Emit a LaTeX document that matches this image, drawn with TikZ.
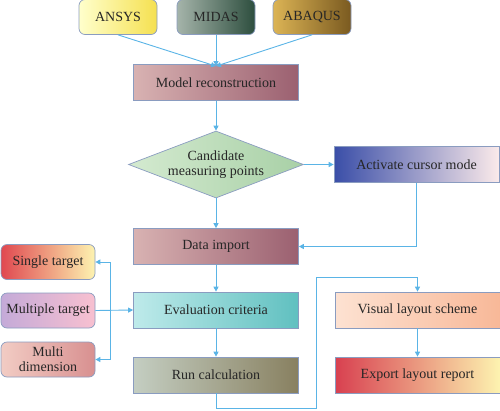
\documentclass[tikz,border=0pt]{standalone}
\usepackage{fontspec}
\setmainfont{Liberation Serif}
\usetikzlibrary{shapes.geometric,arrows.meta,positioning}
\definecolor{lnk}{HTML}{5AB4E6}
\definecolor{bord}{HTML}{8A9CC0}
\tikzset{
  box/.style={draw=bord, line width=0.7pt, minimum width=165pt, minimum height=36pt, inner sep=1pt, font=\fontsize{14}{15.5}\selectfont, align=center, text=black!85},
  side/.style={box, minimum width=94pt, minimum height=35pt, rounded corners=6pt},
  top/.style={box, minimum width=78pt, minimum height=35pt, rounded corners=6pt},
  arr/.style={draw=lnk, line width=0.9pt, -{Triangle[length=5pt,width=5pt]}},
  ln/.style={draw=lnk, line width=0.9pt},
}
\begin{document}
\begin{tikzpicture}[x=1pt,y=-1pt]
\useasboundingbox (0,0) rectangle (500,410);
% top
\node[top, left color=yellow!20!white, right color={rgb,255:red,245;green,224;blue,80}] (ansys) at (118,17) {ANSYS};
\node[top, left color={rgb,255:red,165;green,180;blue,170}, right color={rgb,255:red,45;green,78;blue,62}] (midas) at (216,17) {MIDAS};
\node[top, left color={rgb,255:red,220;green,180;blue,85}, right color={rgb,255:red,122;green,90;blue,32}] (abaqus) at (312,17) {ABAQUS};
% main column
\node[box, left color={rgb,255:red,216;green,178;blue,178}, right color={rgb,255:red,155;green,96;blue,112}] (model) at (216,82.5) {Model reconstruction};
\node[diamond, draw=bord, line width=0.7pt, aspect=2.6, inner sep=0pt, minimum width=175pt, minimum height=67pt, left color={rgb,255:red,212;green,234;blue,208}, right color={rgb,255:red,168;green,208;blue,166}, align=center, font=\fontsize{14}{15.5}\selectfont, text=black!85] (cand) at (216,164.5) {Candidate\\measuring points};
\node[box, left color={rgb,255:red,58;green,78;blue,168}, right color={rgb,255:red,251;green,234;blue,234}] (cursor) at (416.5,164.5) {Activate cursor mode};
\node[box, left color={rgb,255:red,216;green,178;blue,178}, right color={rgb,255:red,155;green,96;blue,112}] (data) at (216,246.5) {Data import};
\node[box, left color={rgb,255:red,190;green,234;blue,234}, right color={rgb,255:red,96;green,192;blue,192}] (eval) at (216,310) {Evaluation criteria};
\node[box, left color={rgb,255:red,196;green,206;blue,194}, right color={rgb,255:red,136;green,128;blue,96}] (run) at (216,375) {Run calculation};
% left
\node[side, left color={rgb,255:red,224;green,72;blue,80}, right color={rgb,255:red,253;green,243;blue,176}] (single) at (48,262) {Single target};
\node[side, left color={rgb,255:red,196;green,170;blue,216}, right color={rgb,255:red,248;green,192;blue,208}] (multi) at (48,310.5) {Multiple target};
\node[side, left color={rgb,255:red,242;green,204;blue,196}, right color={rgb,255:red,216;green,144;blue,144}, font=\fontsize{14}{15}\selectfont] (dim) at (48,359.5) {Multi\\dimension};
% right
\node[box, left color={rgb,255:red,253;green,226;blue,210}, right color={rgb,255:red,248;green,184;blue,152}] (visual) at (417.5,310) {Visual layout scheme};
\node[box, left color={rgb,255:red,216;green,64;blue,80}, right color={rgb,255:red,253;green,243;blue,176}] (export) at (417.5,375) {Export layout report};
% connectors
\coordinate (mtop) at ([yshift=-2]model.north);
\draw[arr] (ansys.south) -- (mtop);
\draw[arr] (midas.south) -- (mtop);
\draw[arr] (abaqus.south) -- (mtop);
\draw[arr] (model.south) -- (cand.north);
\draw[arr] (cand.east) -- (cursor.west);
\draw[arr] (cand.south) -- (data.north);
\draw[arr] (cursor.south) |- (data.east);
\draw[arr] (data.south) -- (eval.north);
\draw[arr] (eval.south) -- (run.north);
\draw[arr] (multi.east) -- (eval.west);
\coordinate (bk) at (110,262);
\draw[arr] (bk) -- (single.east);
\draw[arr] (bk) |- (dim.east);
\coordinate (r1) at (216,408);
\coordinate (r2) at (316,277);
\draw[arr] (run.south) -- (r1) -| (r2) -| (visual.north);
\draw[arr] (visual.south) -- (export.north);
\end{tikzpicture}
\end{document}
